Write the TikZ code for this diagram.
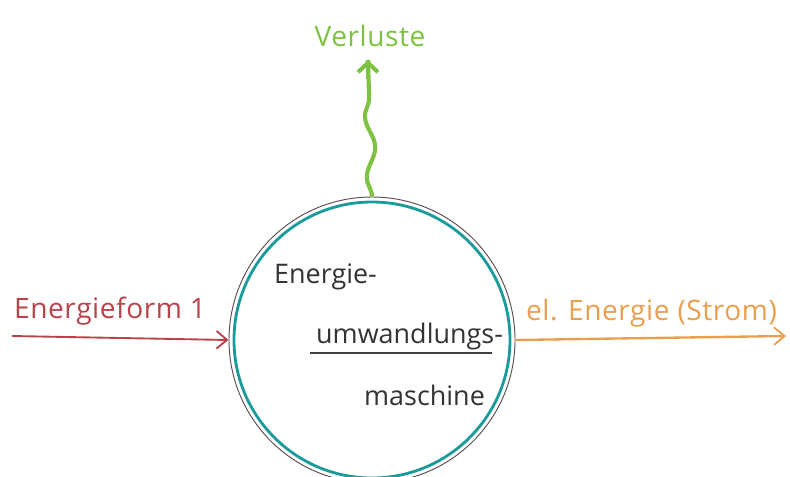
\documentclass[tikz,border=0pt]{standalone}
\usepackage{fontspec}
\setmainfont{Open Sans}
\usetikzlibrary{decorations.pathmorphing,arrows.meta}
\definecolor{cred}{HTML}{B8434A}
\definecolor{corange}{HTML}{E8A050}
\definecolor{cgreen}{HTML}{7DC242}
\definecolor{cteal}{HTML}{1A9A9A}
\definecolor{cring}{HTML}{5A4A55}
\begin{document}
\begin{tikzpicture}[x=0.03cm,y=-0.03cm,
  lbl/.style={font=\fontsize{24}{28}\selectfont\addfontfeature{LetterSpace=2}},
  inner/.style={font=\fontsize{23}{27}\selectfont, text=black!80},
  arr/.style={line width=1.6pt, -{Straight Barb[length=9pt,width=15pt,line width=1.6pt]}}]
\useasboundingbox (0,0) rectangle (790,476);
% circle
\node[circle, draw=cring, line width=0.8pt, minimum size=286*0.03cm, inner sep=0pt] (machine) at (372,340) {};
\draw[cteal, line width=2.4pt] (machine.center) circle (138);
% texts inside
\node[inner, anchor=base west] (t1) at (270,283) {Energie-};
\node[inner, anchor=base west] (t2) at (312,343) {umwandlungs-};
\coordinate (u1) at (310,353);
\coordinate (u2) at (492,353);
\draw[black!75, line width=0.9pt] (u1) -- (u2);
\node[inner, anchor=base west] (t3) at (360,405) {maschine};
% left arrow
\coordinate (lstart) at (12,336);
\draw[arr, cred] (lstart) -- (machine.west);
\node[lbl, text=cred, anchor=base west] (lt) at (10,318) {Energieform 1};
% right arrow
\coordinate (rend) at (786,336);
\draw[arr, corange, line width=2pt] (machine.east) -- (rend);
\node[lbl, text=corange, anchor=base west] (rt) at (522,320) {el. Energie (Strom)};
% top wavy arrow
\coordinate (tend) at (368,60);
\draw[cgreen, line width=3.5pt, decorate, decoration={snake, amplitude=4pt, segment length=52pt, post length=14pt}] (machine.north) -- (tend);
\draw[cgreen, line width=3.5pt, -{Straight Barb[length=8pt,width=17pt,line width=3.5pt]}] ([yshift=-16]tend) -- (tend);
\node[lbl, text=cgreen, anchor=base] (vt) at (370,46) {Verluste};
\end{tikzpicture}
\end{document}
